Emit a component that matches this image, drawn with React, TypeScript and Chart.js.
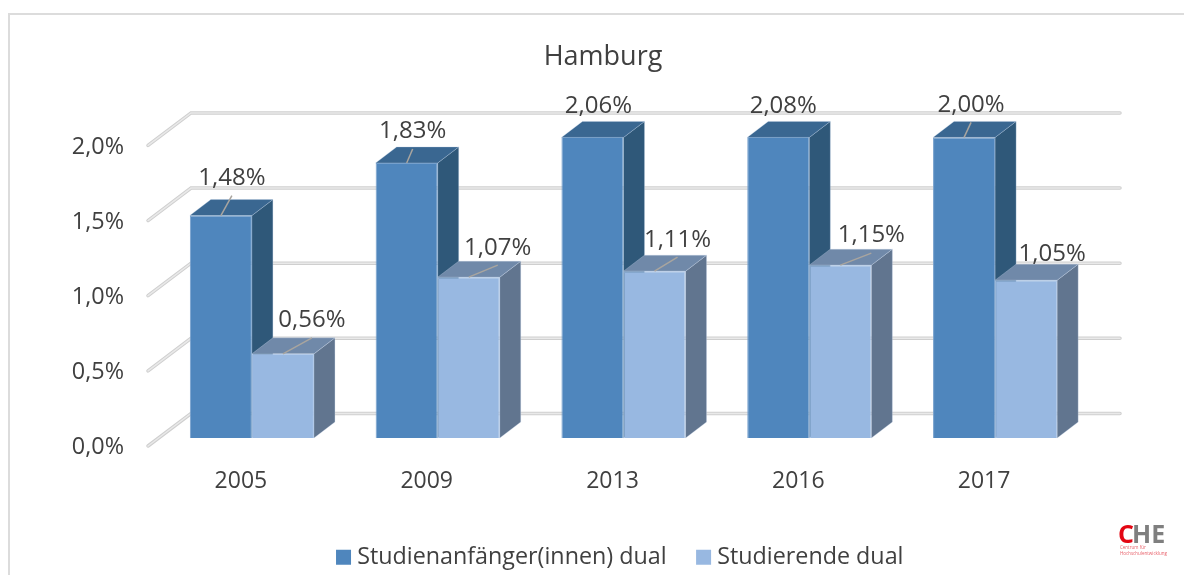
import React, { useEffect, useRef } from "react";
import { Chart, registerables } from "chart.js";

Chart.register(...registerables);

const categories = ["2005", "2009", "2013", "2016", "2017"];
const seriesNames = ["Studienanfänger(innen) dual", "Studierende dual"];
const anfaenger = [1.48, 1.83, 2.06, 2.08, 2.0];
const studierende = [0.56, 1.07, 1.11, 1.15, 1.05];
const yTickLabels = ["0,0%", "0,5%", "1,0%", "1,5%", "2,0%"];
const titleText = "Hamburg";

const FONT = "'Open Sans', sans-serif";
const TEXT = "#404040";
const FACES = [
  { front: "#4F86BD", side: "#2F5879", top: "#3A6791", edge: "#76A0CC", faceEdge: "rgba(185,205,230,0.3)" },
  { front: "#98B8E1", side: "#61758F", top: "#7089A9", edge: "#ABC5E7", faceEdge: "rgba(205,220,240,0.3)" },
];
// bar depth offset inside the floor, and full wall depth
const BAR_NEAR = { x: 11, y: -8 };
const BAR_DEPTH = { x: 21, y: -16 };
const WALL = { x: 43, y: -32.5 };

// label placement relative to the top-centre of the front face of each bar
const LABEL_OFFSETS = [
  [[11, -39], [6, -33], [6, -33], [5, -33], [7, -34]],
  [[29, -35], [29, -31], [23, -33], [31, -31], [26, -28]],
];
const LABEL_BASELINE_SHIFT = 1.5;
const LEADERS = [
  [true, true, false, false, true],
  [true, true, true, true, false],
];

function poly(ctx: CanvasRenderingContext2D, pts: number[][], fill: string, stroke: string) {
  ctx.beginPath();
  pts.forEach((p, i) => (i ? ctx.lineTo(p[0], p[1]) : ctx.moveTo(p[0], p[1])));
  ctx.closePath();
  ctx.fillStyle = fill;
  ctx.fill();
  ctx.strokeStyle = stroke;
  ctx.lineWidth = 1;
  ctx.stroke();
}

const scene3d = {
  id: "scene3d",
  beforeDraw(chart: any) {
    const { ctx, width, height } = chart;
    ctx.save();
    ctx.strokeStyle = "#DCDCDC";
    ctx.lineWidth = 2;
    ctx.beginPath();
    ctx.moveTo(9, height);
    ctx.lineTo(9, 14);
    ctx.lineTo(width, 14);
    ctx.stroke();
    ctx.restore();
  },
  afterLayout(chart: any) {
    // centre title and legend where the reference has them
    chart.titleBlock.left += 64.5;
    chart.titleBlock.right += 64.5;
    chart.legend.left += 84;
    chart.legend.right += 84;
    chart.legend.top += 4;
    chart.legend.bottom += 4;
  },
  beforeDatasetsDraw(chart: any) {
    const { ctx, chartArea: a, scales } = chart;
    const y = scales.y;
    ctx.save();
    ctx.lineCap = "round";
    y.ticks.forEach((t: any) => {
      const py = y.getPixelForValue(t.value);
      const bx = a.left + WALL.x;
      const by = py + WALL.y;
      ctx.beginPath();
      ctx.moveTo(a.left, py);
      ctx.lineTo(bx, by);
      ctx.lineTo(a.right + WALL.x, by);
      ctx.strokeStyle = "#CFCFCF";
      ctx.lineWidth = 3.5;
      ctx.stroke();
      ctx.strokeStyle = "#E9E9E9";
      ctx.lineWidth = 1.5;
      ctx.stroke();
    });
    ctx.restore();

    ctx.save();
    [0, 1].forEach((di) => {
      const f = FACES[di];
      chart.getDatasetMeta(di).data.forEach((el: any) => {
        const p = el.getProps(["x", "y", "base", "width"], true);
        const l = p.x - p.width / 2 + BAR_NEAR.x;
        const r = p.x + p.width / 2 + BAR_NEAR.x;
        const tp = Math.max(p.y, a.top) + BAR_NEAR.y;
        const bt = p.base + BAR_NEAR.y;
        const d = BAR_DEPTH;
        poly(ctx, [[r, tp], [r + d.x, tp + d.y], [r + d.x, bt + d.y], [r, bt]], f.side, f.faceEdge);
        poly(ctx, [[l, tp], [l + d.x, tp + d.y], [r + d.x, tp + d.y], [r, tp]], f.top, f.faceEdge);
      });
    });
    ctx.restore();

    ctx.save();
    ctx.translate(BAR_NEAR.x, BAR_NEAR.y);
  },
  afterDatasetsDraw(chart: any) {
    const { ctx, chartArea: a } = chart;
    ctx.restore();
    ctx.save();
    [0, 1].forEach((di) => {
      const values = chart.data.datasets[di].data;
      chart.getDatasetMeta(di).data.forEach((el: any, i: number) => {
        const p = el.getProps(["x", "y"], true);
        const cx = p.x + BAR_NEAR.x;
        const tp = Math.max(p.y, a.top) + BAR_NEAR.y;
        const [ox, oy] = LABEL_OFFSETS[di][i];
        if (LEADERS[di][i]) {
          ctx.beginPath();
          ctx.moveTo(cx, tp);
          ctx.lineTo(cx + ox, tp + oy + 19);
          ctx.strokeStyle = "#A9A59F";
          ctx.lineWidth = 1.5;
          ctx.stroke();
        }
        ctx.font = `24px ${FONT}`;
        ctx.fillStyle = TEXT;
        ctx.textAlign = "center";
        ctx.textBaseline = "middle";
        ctx.fillText(values[i].toFixed(2).replace(".", ",") + "%", cx + ox, tp + oy + LABEL_BASELINE_SHIFT);
      });
    });
    // CHE logo
    ctx.textAlign = "left";
    ctx.textBaseline = "alphabetic";
    ctx.font = `bold 25px ${FONT}`;
    ctx.fillStyle = "#E30613";
    ctx.fillText("C", 1118, 543);
    ctx.fillStyle = "#7F7F7F";
    ctx.fillText("HE", 1132, 543);
    ctx.font = `4.5px ${FONT}`;
    ctx.fillStyle = "#E8606A";
    ctx.fillText("Centrum für", 1120, 549);
    ctx.fillText("Hochschulentwicklung", 1120, 555);
    ctx.restore();
  },
};

export default function App() {
  const ref = useRef<HTMLCanvasElement>(null);
  useEffect(() => {
    const chart = new Chart(ref.current!, {
      type: "bar",
      data: {
        labels: categories,
        datasets: [
          {
            label: seriesNames[0],
            data: anfaenger,
            backgroundColor: FACES[0].front,
            borderColor: FACES[0].edge,
            borderWidth: 1,
            barPercentage: 1,
            categoryPercentage: 0.668,
          },
          {
            label: seriesNames[1],
            data: studierende,
            backgroundColor: FACES[1].front,
            borderColor: FACES[1].edge,
            borderWidth: 1,
            barPercentage: 1,
            categoryPercentage: 0.668,
          },
        ],
      },
      options: {
        responsive: false,
        animation: false,
        layout: { padding: { left: 0, right: 107, top: 0, bottom: 0 } },
        plugins: {
          tooltip: { enabled: false },
          title: {
            display: true,
            text: titleText,
            color: TEXT,
            font: { family: FONT, size: 27, weight: "normal", lineHeight: 1.2 },
            padding: { top: 41, bottom: 72 },
          },
          legend: {
            position: "bottom",
            labels: {
              color: TEXT,
              font: { family: FONT, size: 23.3 },
              boxWidth: 4,
              boxHeight: 4,
              padding: 35,
              generateLabels: (c: any) =>
                Chart.defaults.plugins.legend.labels.generateLabels(c).map((it: any) => ({
                  ...it,
                  strokeStyle: it.fillStyle,
                  lineWidth: 11,
                  fontColor: TEXT,
                })),
            },
          },
        },
        scales: {
          x: {
            grid: { display: false, drawTicks: false },
            border: { display: false },
            ticks: { color: TEXT, font: { family: FONT, size: 23 }, padding: 22, maxRotation: 0 },
            afterFit: (s: any) => {
              s.height = 129 - s.chart.legend.height;
            },
          },
          y: {
            min: 0,
            max: 2,
            grid: { display: false, drawTicks: false },
            border: { display: false },
            ticks: {
              stepSize: 0.5,
              color: TEXT,
              font: { family: FONT, size: 23.4, lineHeight: "3px" },
              padding: 24,
              callback: (_v: any, i: number) => ["", yTickLabels[i]],
            },
            afterFit: (s: any) => {
              s.width = 148;
            },
          },
        },
      },
      plugins: [scene3d],
    } as any);
    return () => chart.destroy();
  }, []);
  return (
    <div style={{ position: "fixed", left: 0, top: 0, width: 1184, height: 575, background: "#fff" }}>
      <canvas ref={ref} width={1184} height={575} style={{ display: "block" }} />
    </div>
  );
}
